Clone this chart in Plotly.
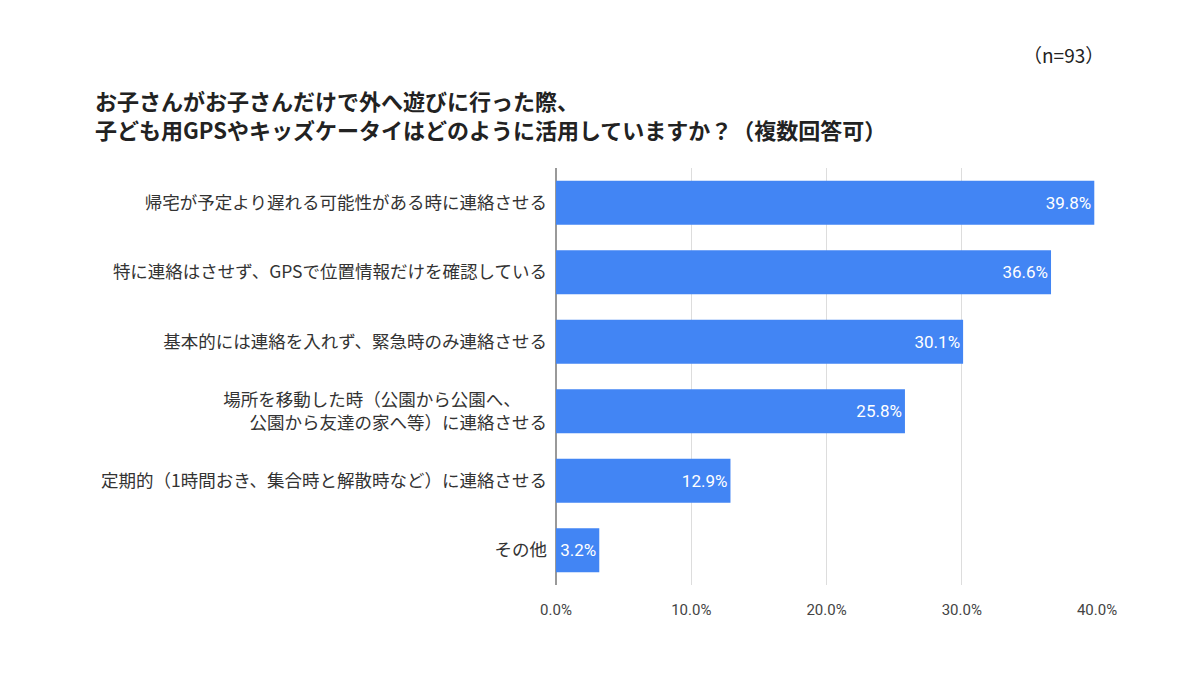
import plotly.graph_objects as go

categories = [
    "帰宅が予定より遅れる可能性がある時に連絡させる",
    "特に連絡はさせず、GPSで位置情報だけを確認している",
    "基本的には連絡を入れず、緊急時のみ連絡させる",
    "場所を移動した時（公園から公園へ、　　<br>公園から友達の家へ等）に連絡させる",
    "定期的（1時間おき、集合時と解散時など）に連絡させる",
    "その他",
]
values = [39.8, 36.6, 30.1, 25.8, 12.9, 3.2]
tick_vals = [0, 10, 20, 30, 40]
tick_text = ["0.0%", "10.0%", "20.0%", "30.0%", "40.0%"]

FONT = "Noto Sans CJK JP"

# plot area in pixels
L, R, T, B = 556, 1097, 168, 585
W, H = R - L, B - T


def px(x):
    return (x - L) / W


def py(y):
    return (B - y) / H


fig = go.Figure(go.Bar(
    y=categories,
    x=values,
    orientation="h",
    marker=dict(color="#4285F4", line=dict(width=0)),
    width=0.634,
    text=[f"{v:.1f}%" for v in values],
    textposition="inside",
    insidetextanchor="end",
    textfont=dict(color="white", size=17, family="Roboto"),
    cliponaxis=False,
))

fig.update_layout(
    width=1200, height=700,
    paper_bgcolor="white", plot_bgcolor="white",
    margin=dict(l=L, r=1200 - R, t=T, b=700 - B),
    font=dict(family=FONT, color="#333333"),
    showlegend=False,
    uniformtext=dict(minsize=16, mode="show"),
    annotations=[
        dict(text="<b>お子さんがお子さんだけで外へ遊びに行った際、<br>子ども用GPSやキッズケータイはどのように活用していますか？（複数回答可）</b>",
             xref="paper", yref="paper", x=px(93), y=py(82), xanchor="left", yanchor="top",
             align="left", showarrow=False, font=dict(size=22, color="#222222", family=FONT)),
        dict(text="（n=93）", xref="paper", yref="paper", x=px(1106), y=py(55),
             xanchor="right", yanchor="middle", showarrow=False,
             font=dict(size=19, color="#222222", family=FONT)),
    ],
)

fig.update_xaxes(
    range=[0, 40], tickvals=tick_vals, ticktext=tick_text,
    showgrid=True, gridcolor="#dddddd", gridwidth=1,
    zeroline=True, zerolinecolor="#999999", zerolinewidth=2,
    tickfont=dict(size=15, color="#444444", family="Roboto"),
    ticks="", showline=False, ticklabelstandoff=14,
)
fig.update_yaxes(
    autorange="reversed", categoryorder="array", categoryarray=categories,
    tickfont=dict(size=17.5, color="#333333", family=FONT),
    ticks="", ticklabelstandoff=8, showline=False, showgrid=False,
)

fig.write_html("out.html")
